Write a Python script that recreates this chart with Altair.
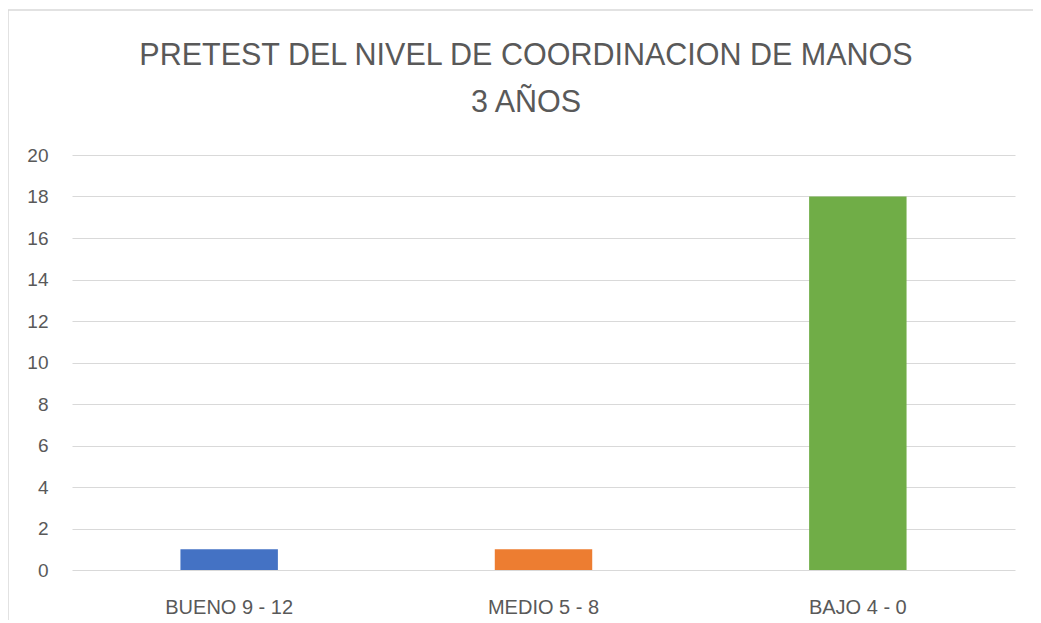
import altair as alt
import pandas as pd

categories = ["BUENO 9 - 12", "MEDIO 5 - 8", "BAJO 4 - 0"]
values = [1, 1, 18]
colors = ["#4472C4", "#ED7D31", "#70AD47"]
y_ticks = [0, 2, 4, 6, 8, 10, 12, 14, 16, 18, 20]
title_lines = ["PRETEST DEL NIVEL DE COORDINACION DE MANOS", "3 AÑOS"]

df = pd.DataFrame({"categoria": categories, "valor": values})

FONT = "Liberation Sans"
GRAY = "#595959"

bars = alt.Chart(df).mark_bar().encode(
    x=alt.X(
        "categoria:N",
        sort=categories,
        scale=alt.Scale(paddingInner=0.69, paddingOuter=0.345),
        axis=alt.Axis(
            title=None, labelAngle=0, ticks=False, domain=False,
            labelFont=FONT, labelFontSize=20, labelColor=GRAY, labelPadding=27,
        ),
    ),
    y=alt.Y(
        "valor:Q",
        scale=alt.Scale(domain=[0, 20], nice=False),
        axis=alt.Axis(
            title=None, values=y_ticks, ticks=False, domain=False,
            grid=True, gridColor="#D9D9D9", gridWidth=1,
            labelFont=FONT, labelFontSize=19, labelColor=GRAY, labelPadding=24,
        ),
    ),
    color=alt.Color("categoria:N", sort=categories,
                    scale=alt.Scale(domain=categories, range=colors), legend=None),
)

frame_df = pd.DataFrame({"k": [0]})
left_border = alt.Chart(frame_df).mark_rule(color="#D9D9D9", strokeWidth=1.5).encode(
    x=alt.value(-64), y=alt.value(-145), y2=alt.value(480)
)
top_border = alt.Chart(frame_df).mark_rule(color="#D9D9D9", strokeWidth=1.5).encode(
    x=alt.value(-64), x2=alt.value(980), y=alt.value(-145)
)

title1 = alt.Chart(pd.DataFrame({"t": [title_lines[0]]})).mark_text(
    font=FONT, fontSize=30.5, color=GRAY, align="center", baseline="alphabetic"
).encode(text="t:N", x=alt.value(454), y=alt.value(-90))
title2 = alt.Chart(pd.DataFrame({"t": [title_lines[1]]})).mark_text(
    font=FONT, fontSize=30.5, color=GRAY, align="center", baseline="alphabetic"
).encode(text="t:N", x=alt.value(454), y=alt.value(-43))

chart = alt.layer(bars, left_border, top_border, title1, title2).properties(
    width=943,
    height=415,
    autosize=alt.AutoSizeParams(type="none"),
    padding={"left": 64, "top": 147, "right": 18, "bottom": 50},
    background="white",
).configure_view(stroke=None)

chart.save("out.html", embed_options={"renderer": "svg", "actions": False})
